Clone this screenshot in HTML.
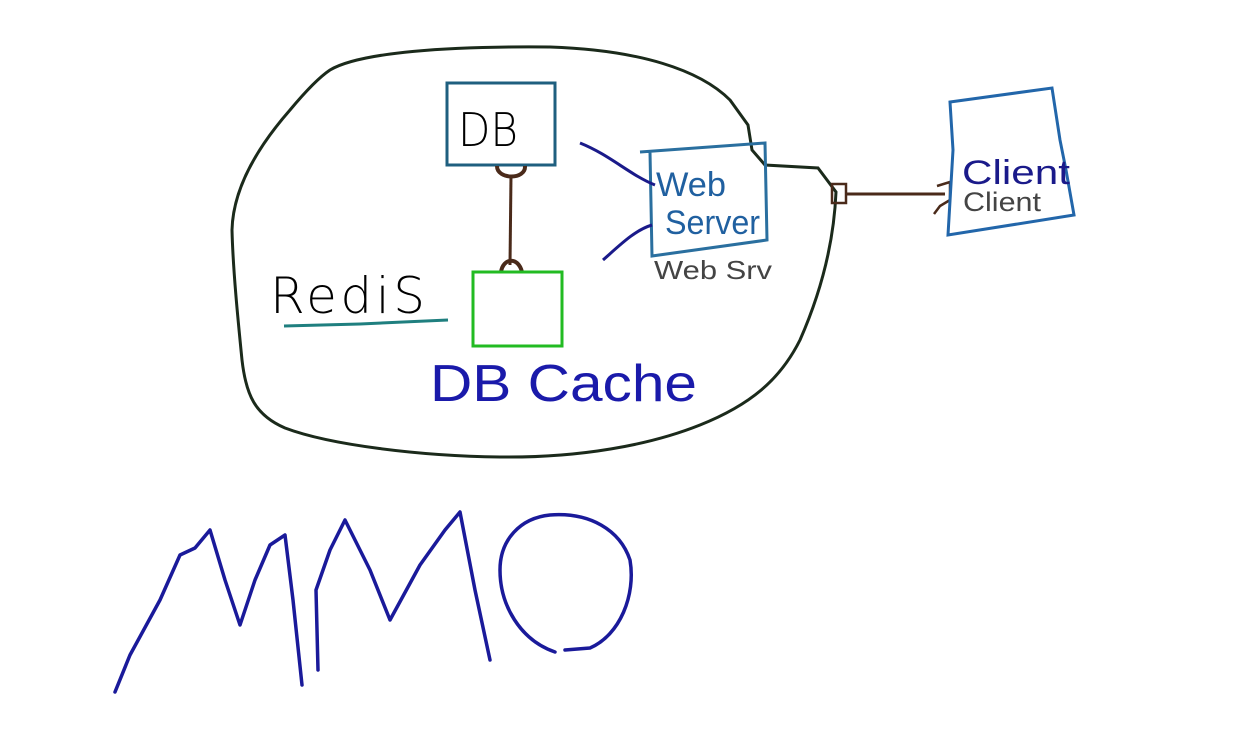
<!DOCTYPE html>
<html><head><meta charset="utf-8"><style>
html,body{margin:0;padding:0;background:#fff;width:1259px;height:753px;overflow:hidden}
svg{display:block}
text{font-family:"Liberation Sans",sans-serif}
</style></head><body>
<svg width="1259" height="753" viewBox="0 0 1259 753" xmlns="http://www.w3.org/2000/svg">
<rect width="1259" height="753" fill="#fff"/>
<path d="M330,70 C360,52 450,46 550,47 C640,50 700,70 730,100 L748,125 L752,150 L765,165 L818,168 L836,192 C834,240 822,290 800,340 C780,380 750,405 700,425 C650,445 580,458 500,457 C420,456 330,445 285,428 C255,415 246,395 242,360 C238,320 233,270 232,230 C233,190 255,150 290,110 C305,92 318,78 330,70 Z" fill="none" stroke="#1b2a1b" stroke-width="3"/>
<rect x="447" y="83" width="108" height="82" fill="none" stroke="#1f5f7f" stroke-width="3"/>
<text x="458" y="146" font-size="46" fill="#000" style="font-family:'DejaVu Sans',sans-serif;font-weight:200" textLength="60" lengthAdjust="spacingAndGlyphs">DB</text>
<path d="M511,175 L510,265" stroke="#4a2a1a" stroke-width="3" fill="none"/>
<path d="M497,166 C497,180 526,180 525,166" stroke="#4a2a1a" stroke-width="4" fill="none"/>
<path d="M501,272 C503,258 518,256 522,272" stroke="#4a2a1a" stroke-width="4" fill="none"/>
<rect x="473" y="272" width="89" height="74" fill="none" stroke="#22bb22" stroke-width="3"/>
<text x="270" y="313" font-size="50" fill="#000" style="font-family:'DejaVu Sans',sans-serif;font-weight:200" textLength="155">RediS</text>
<path d="M284,326 L360,324 L448,320" stroke="#1f7f7f" stroke-width="3" fill="none"/>
<text x="430" y="401" font-size="52" fill="#1a1aaa" textLength="267" lengthAdjust="spacingAndGlyphs">DB Cache</text>
<path d="M640,152 L765,143 L767,240 L652,256 L650,152" fill="none" stroke="#2a6f9f" stroke-width="3"/>
<path d="M580,143 C610,155 630,175 655,185" stroke="#1a1a8a" stroke-width="3" fill="none"/>
<path d="M603,260 C620,245 635,230 652,225" stroke="#1a1a8a" stroke-width="3" fill="none"/>
<text x="656" y="196" font-size="34" fill="#2060a0" textLength="70" lengthAdjust="spacingAndGlyphs">Web</text>
<text x="665" y="234" font-size="34" fill="#2060a0" textLength="95" lengthAdjust="spacingAndGlyphs">Server</text>
<text x="654" y="279" font-size="26" fill="#444" textLength="118" lengthAdjust="spacingAndGlyphs">Web Srv</text>
<rect x="832" y="184" width="14" height="19" fill="none" stroke="#4a2a1a" stroke-width="2.5"/>
<path d="M847,194 L945,194" stroke="#4a2a1a" stroke-width="3"/>
<path d="M937,186 L950,182 L950,200 L940,206 L934,214" stroke="#4a2a1a" stroke-width="2.5" fill="none"/>
<path d="M950,102 L1052,88 L1060,140 L1066,170 L1074,215 L948,235 L953,150 Z" fill="none" stroke="#2266aa" stroke-width="3"/>
<text x="962" y="184" font-size="34" fill="#1a1a8a" textLength="108" lengthAdjust="spacingAndGlyphs">Client</text>
<text x="963" y="211" font-size="27" fill="#444" textLength="78" lengthAdjust="spacingAndGlyphs">Client</text>
<g stroke="#1a1a9a" stroke-width="3.5" fill="none" stroke-linejoin="round" stroke-linecap="round">
<path d="M115,692 L130,655 L160,600 L180,555 L195,548 L210,530 L225,580 L240,625 L255,580 L270,545 L285,535 L293,600 L302,685"/>
<path d="M318,670 L316,590 L330,550 L345,520 L370,570 L390,620 L420,565 L445,530 L460,512 L475,590 L490,660"/>
<path d="M555,652 C520,640 500,605 500,570 C500,540 520,518 550,515 C590,512 620,530 630,560 C636,595 620,635 590,648 L565,650"/>
</g>
</svg>
</body></html>
